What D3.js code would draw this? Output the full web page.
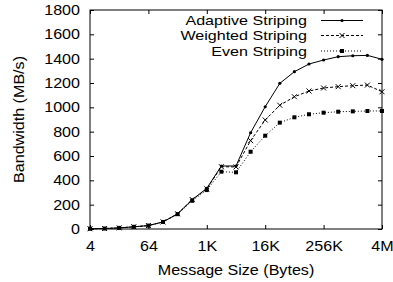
<!DOCTYPE html>
<html>
<head>
<meta charset="utf-8">
<script src="https://cdn.jsdelivr.net/npm/d3@7"></script>
<style>
  body { margin: 0; background: #fff; }
  text { font-family: "Liberation Sans", Arial, sans-serif; font-size: 14px; fill: #000; }
  text.legend { font-size: 13.4px; }
</style>
</head>
<body>
<div class="chart"></div>
<script>
var svgWidth = 393;
var svgHeight = 282;

// plot frame
var plotLeft = 90, plotRight = 382, plotTop = 10, plotBottom = 229;
var stretch = 1.15; // text in the picture is a bit wider than Arial

// message sizes in bytes, 4 .. 4M
var sizes = [4, 8, 16, 32, 64, 128, 256, 512, 1024, 2048, 4096, 8192, 16384,
  32768, 65536, 131072, 262144, 524288, 1048576, 2097152, 4194304];

var adaptive = [2, 4, 9, 18, 28, 58, 125, 240, 335, 518, 518, 791, 1005,
  1197, 1293, 1356, 1389, 1416, 1424, 1427, 1395];
var weighted = [2, 4, 9, 18, 28, 58, 125, 242, 330, 512, 510, 726, 896,
  1017, 1087, 1134, 1159, 1170, 1178, 1183, 1128];
var even = [2, 4, 9, 18, 28, 58, 122, 232, 320, 471, 466, 635, 767,
  874, 918, 943, 956, 964, 967, 970, 970];

var xTicks = [4, 64, 1024, 16384, 262144, 4194304];
var xTickLabels = ["4", "64", "1K", "16K", "256K", "4M"];
var yTicks = [0, 200, 400, 600, 800, 1000, 1200, 1400, 1600, 1800];

var seriesNames = ["Adaptive Striping", "Weighted Striping", "Even Striping"];

var svg = d3.select(".chart")
  .append("svg")
  .attr("width", svgWidth)
  .attr("height", svgHeight);

var x = d3.scaleLog().base(2)
  .domain([4, 4194304])
  .range([plotLeft, plotRight]);

var y = d3.scaleLinear()
  .domain([0, 1800])
  .range([plotBottom, plotTop]);

// axes, ticks pointing inward, mirrored on top and right
var bottomAxis = d3.axisBottom(x).tickValues(xTicks)
  .tickFormat((d, i) => xTickLabels[i]).tickSize(-4).tickPadding(12);
var topAxis = d3.axisTop(x).tickValues(xTicks).tickFormat("").tickSize(-4);
var leftAxis = d3.axisLeft(y).tickValues(yTicks).tickFormat(d3.format("d"))
  .tickSize(-4).tickPadding(10);
var rightAxis = d3.axisRight(y).tickValues(yTicks).tickFormat("").tickSize(-4);

function styleAxis(g) {
  g.select(".domain").remove();
  g.selectAll("line").attr("stroke", "#000");
  g.attr("font-size", null).attr("font-family", null);
}

svg.append("g").attr("transform", `translate(0, ${plotBottom})`).call(bottomAxis).call(styleAxis)
  .selectAll("text").attr("transform", `scale(${stretch},1)`);
svg.append("g").attr("transform", `translate(0, ${plotTop})`).call(topAxis).call(styleAxis);
svg.append("g").attr("transform", `translate(${plotLeft}, 0)`).call(leftAxis).call(styleAxis)
  .selectAll("text").attr("x", -10 / stretch).attr("transform", `scale(${stretch},1)`);
svg.append("g").attr("transform", `translate(${plotRight}, 0)`).call(rightAxis).call(styleAxis);

svg.append("rect")
  .attr("x", plotLeft).attr("y", plotTop)
  .attr("width", plotRight - plotLeft).attr("height", plotBottom - plotTop)
  .attr("fill", "none").attr("stroke", "#000").attr("stroke-width", 1);

// series
var series = [
  { name: seriesNames[0], values: adaptive, dash: null, marker: "dot" },
  { name: seriesNames[1], values: weighted, dash: "3,2", marker: "cross" },
  { name: seriesNames[2], values: even, dash: "1,2", marker: "square" }
];

var line = d3.line()
  .x(d => x(d[0]))
  .y(d => y(d[1]));

function drawMarker(g, kind, cx, cy) {
  if (kind === "dot") {
    g.append("circle").attr("cx", cx).attr("cy", cy).attr("r", 1.6).attr("fill", "#000");
  } else if (kind === "cross") {
    g.append("path")
      .attr("d", `M${cx - 2.5},${cy - 2.5}L${cx + 2.5},${cy + 2.5}M${cx - 2.5},${cy + 2.5}L${cx + 2.5},${cy - 2.5}`)
      .attr("stroke", "#000").attr("stroke-width", 1);
  } else {
    g.append("rect").attr("x", cx - 2).attr("y", cy - 2)
      .attr("width", 4).attr("height", 4).attr("fill", "#000");
  }
}

series.forEach(function (s) {
  var pts = sizes.map((v, i) => [v, s.values[i]]);
  svg.append("path")
    .datum(pts)
    .attr("d", line)
    .attr("fill", "none")
    .attr("stroke", "#000")
    .attr("stroke-width", 1)
    .attr("stroke-dasharray", s.dash);
  var mg = svg.append("g");
  pts.forEach(p => drawMarker(mg, s.marker, x(p[0]), y(p[1])));
});

// legend
var legendY = [20.5, 35.5, 51];
var legendStretch = 1.2;
series.forEach(function (s, i) {
  var ly = legendY[i];
  svg.append("text")
    .attr("class", "legend")
    .attr("x", 307 / legendStretch)
    .attr("y", ly)
    .attr("dy", "0.35em")
    .attr("text-anchor", "end")
    .attr("transform", `scale(${legendStretch},1)`)
    .text(s.name);
  svg.append("line")
    .attr("x1", 321).attr("x2", 363)
    .attr("y1", ly).attr("y2", ly)
    .attr("stroke", "#000").attr("stroke-width", 1)
    .attr("stroke-dasharray", s.dash);
  drawMarker(svg.append("g"), s.marker, 342, ly);
});

// axis labels
svg.append("text")
  .attr("transform", `translate(19, ${(plotTop + plotBottom) / 2}) rotate(-90) scale(${stretch},1)`)
  .attr("text-anchor", "middle")
  .attr("dy", "0.35em")
  .text("Bandwidth (MB/s)");

svg.append("text")
  .attr("transform", `translate(${(plotLeft + plotRight) / 2}, 275) scale(${stretch},1)`)
  .attr("text-anchor", "middle")
  .text("Message Size (Bytes)");
</script>
</body>
</html>
